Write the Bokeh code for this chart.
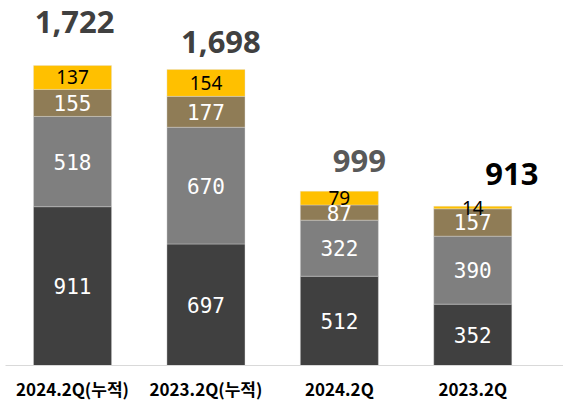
from bokeh.plotting import figure
from bokeh.models import ColumnDataSource, Range1d
from bokeh.core.properties import value
from bokeh.embed import file_html
from bokeh.resources import INLINE

categories = ["2024.2Q(누적)", "2023.2Q(누적)", "2024.2Q", "2023.2Q"]
seg_dark = [911, 697, 512, 352]
seg_gray = [518, 670, 322, 390]
seg_brown = [155, 177, 87, 157]
seg_yellow = [137, 154, 79, 14]
total_labels = ["1,722", "1,698", "999", "913"]

# styling
total_colors = ["#404040", "#404040", "#595959", "#000000"]
total_dx_px = [2, 15, 20, 39]       # hand-placed total text boxes (screen px)
total_dy_px = [-44, -28, -30, -32]

x = list(range(len(categories)))
series = [seg_dark, seg_gray, seg_brown, seg_yellow]
colors = ["#404040", "#7F7F7F", "#8F7C56", "#FFC000"]

p = figure(width=563, height=405, output_backend="svg", toolbar_location=None,
           x_range=Range1d(-0.5025, 3.68), y_range=Range1d(0, 2094),
           min_border_left=5, min_border_right=0, min_border_top=0, min_border_bottom=40)
p.outline_line_color = None
p.grid.grid_line_color = None
p.yaxis.visible = False
p.background_fill_color = "white"

bottom = [0] * len(x)
for vals, col in zip(series, colors):
    top = [b + v for b, v in zip(bottom, vals)]
    src = ColumnDataSource(dict(x=x, bottom=bottom, top=top,
                                mid=[(b + t) / 2 for b, t in zip(bottom, top)],
                                txt=[str(v) for v in vals]))
    p.vbar(x="x", bottom="bottom", top="top", width=0.585, source=src,
           fill_color=col, line_color="#E0E0E0", line_width=0.6, line_alpha=0.6)
    if col == "#FFC000":
        p.text(x="x", y="mid", text="txt", source=src, text_align="center",
               text_baseline="middle", text_color="black", text_font_size="19px",
               text_font=value("Noto Sans"))
    else:
        p.text(x="x", y="mid", text="txt", source=src, text_align="center",
               text_baseline="middle", text_color="white", text_font_size="21px",
               text_font=value("DejaVu Sans Mono"))
    bottom = top

tsrc = ColumnDataSource(dict(x=x, y=bottom, txt=total_labels, c=total_colors,
                             dx=total_dx_px, dy=total_dy_px))
p.text(x="x", y="y", text="txt", source=tsrc, text_align="center", text_baseline="middle",
       x_offset="dx", y_offset="dy", text_color="c", text_font_size="31px",
       text_font_style="bold", text_font=value("Noto Sans"))

p.xaxis.ticker = x
p.xaxis.major_label_overrides = {i: c for i, c in zip(x, categories)}
p.xaxis.major_tick_out = 0
p.xaxis.major_tick_in = 0
p.xaxis.minor_tick_out = 0
p.xaxis.minor_tick_in = 0
p.xaxis.axis_line_color = "#D9D9D9"
p.xaxis.axis_line_width = 1
p.xaxis.major_label_standoff = 10
p.xaxis.major_label_text_font = "Noto Sans CJK KR"
p.xaxis.major_label_text_font_style = "bold"
p.xaxis.major_label_text_font_size = "17px"
p.xaxis.major_label_text_color = "black"

open("out.html", "w").write(file_html(p, INLINE))
